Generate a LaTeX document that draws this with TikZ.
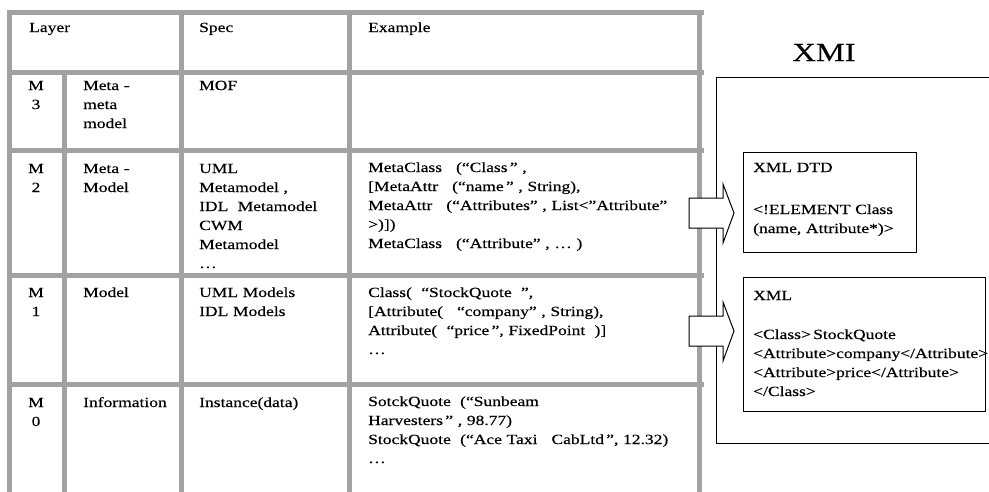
\documentclass[tikz,border=0pt]{standalone}
\usepackage{fontspec}
\setmainfont{Liberation Serif}[FakeStretch=1.25,FakeBold=0.35]
\definecolor{tablegray}{RGB}{162,162,162}
\newcommand\tabfont{\fontsize{14}{19}\selectfont}
\begin{document}
\begin{tikzpicture}[x=1pt,y=-1pt,
  rule/.style={draw=tablegray, line width=5pt},
  cell/.style={anchor=base west, inner sep=0pt, align=left, text width=#1, font=\tabfont},
  cell/.default=320pt,
  mcell/.style={anchor=base, inner sep=0pt, align=center, text width=30pt, font=\tabfont},
  frame/.style={draw=black, line width=1pt, fill=white, inner sep=0pt},
  blockarrow/.style={draw=black, line width=1pt, fill=white, line join=miter}
]
\useasboundingbox (0,0) rectangle (989,491);
\clip (0,0) rectangle (989,491);

% ---- table grid ----
\draw[rule] (7,12.5) -- (704,12.5);
\foreach \yy in {72,150,275,384} \draw[rule] (7,\yy) -- (704,\yy);
\foreach \xx in {9.5,181,349,699} \draw[rule] (\xx,10) -- (\xx,495);
\draw[rule] (64.5,72) -- (64.5,495);

% ---- header ----
\node[cell] (hlayer) at (29,32) {Layer};
\node[cell] (hspec) at (199,32) {Spec};
\node[cell] (hexample) at (368,32) {Example};

% ---- M3 ----
\node[mcell] (m3) at (36,90) {M\\3};
\node[cell] (m3name) at (83,90) {Meta -\\meta\\model};
\node[cell] (m3spec) at (199,90) {MOF};

% ---- M2 ----
\node[mcell] (m2) at (36,173) {M\\2};
\node[cell] (m2name) at (83,173) {Meta -\\Model};
\node[cell] (m2spec) at (199,173) {UML\\Metamodel ,\\IDL\ \ Metamodel\\CWM\\Metamodel\\…};
\node[cell] (m2ex) at (368,172) {MetaClass\ \ \ (“Class\,” ,\\
  {}[MetaAttr\ \ \ (“name\,” , String),\\
  MetaAttr\ \ \ (“Attributes” , List<"Attribute”\\
  >)])\\
  MetaClass\ \ \ (“Attribute” , … )};

% ---- M1 ----
\node[mcell] (m1) at (36,297) {M\\1};
\node[cell] (m1name) at (83,297) {Model};
\node[cell] (m1spec) at (199,297) {UML Models\\IDL Models};
\node[cell] (m1ex) at (368,297) {Class(\ \ “StockQuote\ \ ”,\\
  {}[Attribute(\ \ \ “company” , String),\\
  Attribute(\ \ “price\,”, FixedPoint\ \ )]\\
  …};

% ---- M0 ----
\node[mcell] (m0) at (36,407) {M\\0};
\node[cell] (m0name) at (83,407) {Information};
\node[cell] (m0spec) at (199,407) {Instance(data)};
\node[cell] (m0ex) at (368,406) {SotckQuote\ \ (“Sunbeam\\
  Harvesters\,” , 98.77)\\
  StockQuote\ \ (“Ace Taxi\ \ \ CabLtd\,”, 12.32)\\
  …};

% ---- XMI side ----
\node[anchor=base, inner sep=0pt, font=\fontsize{26}{30}\selectfont] (xmititle) at (824,61) {XMI};
\draw[frame, fill=none] (716,77) rectangle (1000,443);
\node[frame, minimum width=173pt, minimum height=100pt] (dtd) at (829.5,202) {};
\node[frame, minimum width=242pt, minimum height=134pt] (xml) at (864,344) {};

\node[cell] (dtdtitle) at (753,172) {XML DTD};
\node[cell] (dtdbody) at (753,214) {<!ELEMENT Class\\(name, Attribute*)>};
\node[cell] (xmltitle) at (753,300) {XML};
\node[cell] (xmlbody) at (753,339) {<Class>\,StockQuote\\
  <Attribute>company</Attribute>\\
  <Attribute>price</Attribute>\\
  </Class>};

% ---- block arrows from the table into the XMI boxes ----
\coordinate (arrowa) at (689,213);
\coordinate (arrowb) at (689,331);
\foreach \a in {arrowa,arrowb}
  \draw[blockarrow] (\a) ++(0,-15) -- ++(34,0) -- ++(0,-14) -- ++(11,29)
    -- ++(-11,30) -- ++(0,-15) -- ++(-34,0) -- cycle;
\end{tikzpicture}
\end{document}
